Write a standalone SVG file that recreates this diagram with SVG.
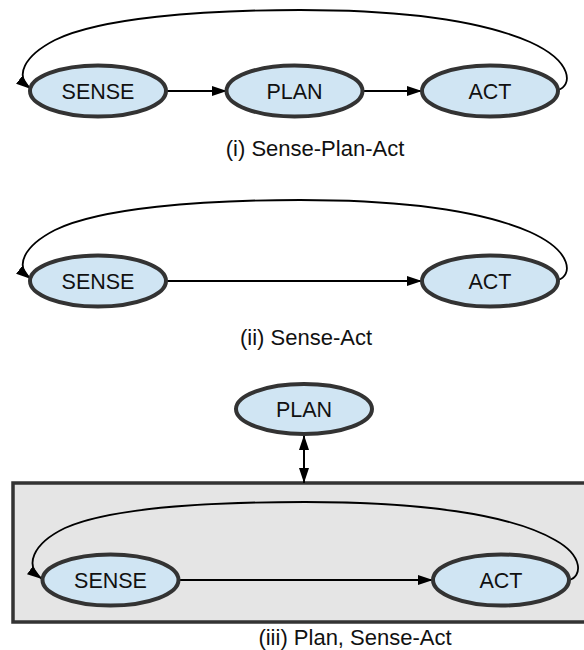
<svg xmlns="http://www.w3.org/2000/svg" width="584" height="650" viewBox="0 0 584 650">
  <style>
    .node ellipse { fill: #d0e5f3; stroke: #333333; stroke-width: 4; }
    .node text { font-family: "Liberation Sans", Arial, sans-serif; font-size: 21.5px; fill: #111111; text-anchor: middle; }
    .caption { font-family: "Liberation Sans", Arial, sans-serif; font-size: 22px; fill: #111111; text-anchor: middle; }
    .edge { fill: none; stroke: #000000; stroke-width: 2; marker-end: url(#arrow); }
    .loop { fill: none; stroke: #000000; stroke-width: 1.8; marker-end: url(#arrow); }
    .both { fill: none; stroke: #000000; stroke-width: 2; marker-start: url(#arrowStart); marker-end: url(#arrow); }
    .frame { fill: #e5e5e5; stroke: #333333; stroke-width: 3.5; }
  </style>
  <defs>
    <marker id="arrow" viewBox="0 0 15 10" refX="15" refY="5" markerWidth="15" markerHeight="10" markerUnits="userSpaceOnUse" orient="auto">
      <path d="M0,0 L15,5 L0,10 z" fill="#000000"/>
    </marker>
    <marker id="arrowStart" viewBox="0 0 15 10" refX="0" refY="5" markerWidth="15" markerHeight="10" markerUnits="userSpaceOnUse" orient="auto">
      <path d="M15,0 L0,5 L15,10 z" fill="#000000"/>
    </marker>
  </defs>

  <!-- (iii) frame around the reactive layer -->
  <rect id="frame" class="frame" x="13" y="483" width="600" height="139"/>

  <g id="connectors">
    <!-- (i) Sense-Plan-Act -->
    <line class="edge" x1="166" y1="91" x2="227" y2="91"/>
    <line class="edge" x1="362" y1="91" x2="422" y2="91"/>
    <path class="loop" d="M558,90 C572,86 574,62 530,42 C470,16 380,10 300,10 C200,10 100,18 55,40 C24,56 14,76 31,89"/>
    <!-- (ii) Sense-Act -->
    <line class="edge" x1="166" y1="281" x2="422" y2="281"/>
    <path class="loop" d="M558,280 C572,276 574,252 530,232 C470,206 380,200 300,200 C200,200 100,208 55,230 C24,246 14,266 31,279"/>
    <!-- (iii) Plan, Sense-Act -->
    <line class="both" x1="304" y1="435" x2="304" y2="483"/>
    <line class="edge" x1="178" y1="580" x2="433" y2="580"/>
    <path class="loop" d="M569,580 C582,577 584,556 555,540 C510,514 420,502 305,502 C200,502 110,508 65,528 C32,544 24,566 42,579"/>
  </g>

  <!-- (i) -->
  <g id="sense1" class="node"><ellipse cx="98" cy="91" rx="68" ry="25.5"/><text x="98" y="98.7">SENSE</text></g>
  <g id="plan1" class="node"><ellipse cx="294.5" cy="91" rx="68" ry="25.5"/><text x="294.5" y="98.7">PLAN</text></g>
  <g id="act1" class="node"><ellipse cx="490" cy="91" rx="68" ry="25.5"/><text x="490" y="98.7">ACT</text></g>
  <text class="caption" x="315" y="156">(i) Sense-Plan-Act</text>

  <!-- (ii) -->
  <g id="sense2" class="node"><ellipse cx="98" cy="281" rx="68" ry="25.5"/><text x="98" y="288.7">SENSE</text></g>
  <g id="act2" class="node"><ellipse cx="490" cy="281" rx="68" ry="25.5"/><text x="490" y="288.7">ACT</text></g>
  <text class="caption" x="306" y="345">(ii) Sense-Act</text>

  <!-- (iii) -->
  <g id="plan3" class="node"><ellipse cx="304" cy="409" rx="68" ry="25"/><text x="304" y="416.7">PLAN</text></g>
  <g id="sense3" class="node"><ellipse cx="110.5" cy="580" rx="68" ry="25.5"/><text x="110.5" y="587.7">SENSE</text></g>
  <g id="act3" class="node"><ellipse cx="501" cy="580" rx="68" ry="25.5"/><text x="501" y="587.7">ACT</text></g>
  <text class="caption" x="355" y="645">(iii) Plan, Sense-Act</text>
</svg>
